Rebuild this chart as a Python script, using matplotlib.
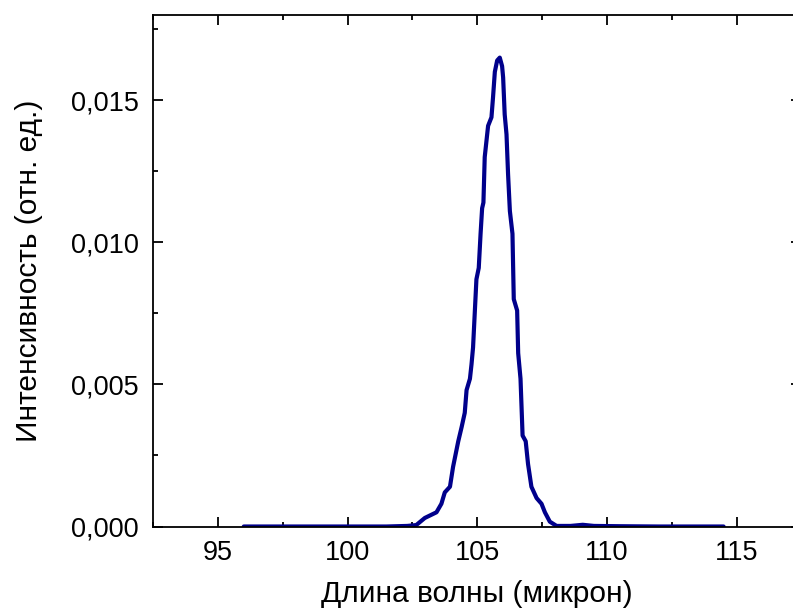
import matplotlib
matplotlib.use('Agg')
import matplotlib.pyplot as plt
from matplotlib.ticker import MultipleLocator

# wavelength (micron) and intensity (rel. units)
wavelength = [96.0, 98.0, 100.0, 101.5, 102.3, 102.65, 102.98, 103.43, 103.62, 103.75,
              103.95, 104.07, 104.27, 104.4, 104.52, 104.59, 104.72, 104.78, 104.84,
              104.97, 105.06, 105.13, 105.19, 105.24, 105.29, 105.42, 105.55, 105.61,
              105.68, 105.77, 105.87, 105.96, 106.0, 106.06, 106.13, 106.19, 106.26,
              106.36, 106.41, 106.54, 106.58, 106.67, 106.75, 106.87, 106.96, 107.09,
              107.29, 107.48, 107.61, 107.8, 108.06, 108.6, 109.07, 109.5, 110.5,
              112.0, 113.5, 114.5]
intensity = [0.0, 0.0, 0.0, 0.0, 0.00002, 0.00005, 0.0003, 0.0005, 0.0008, 0.0012,
             0.0014, 0.0021, 0.0030, 0.0035, 0.0040, 0.0048, 0.0052, 0.0057, 0.0063,
             0.0087, 0.0091, 0.0103, 0.0112, 0.0114, 0.0130, 0.0141, 0.0144, 0.0151,
             0.0160, 0.0164, 0.0165, 0.0162, 0.0158, 0.0145, 0.0138, 0.0124, 0.0111,
             0.0103, 0.0080, 0.0076, 0.0061, 0.0052, 0.0032, 0.0030, 0.0022, 0.0014,
             0.0010, 0.0008, 0.0005, 0.00017, 0.00002, 0.00002, 0.00006, 0.00002, 0.00001,
             0.0, 0.0, 0.0]

xticks = [95, 100, 105, 110, 115]
yticks = [0.0, 0.005, 0.010, 0.015]
ytick_labels = ['0,000', '0,005', '0,010', '0,015']

plt.rcParams['font.family'] = ['Liberation Sans', 'DejaVu Sans']

fig = plt.figure(figsize=(7.93, 6.12), dpi=100)
ax = fig.add_axes([153 / 793, 85.5 / 612, 648.4 / 793, 511.5 / 612])

ax.plot(wavelength, intensity, color='#00008b', linewidth=3,
        solid_capstyle='round', solid_joinstyle='round')

ax.set_xlim(92.5, 117.5)
ax.set_ylim(0, 0.018)
ax.set_xticks(xticks)
ax.set_xticklabels([str(t) for t in xticks])
ax.set_yticks(yticks)
ax.set_yticklabels(ytick_labels)
ax.xaxis.set_minor_locator(MultipleLocator(2.5))
ax.yaxis.set_minor_locator(MultipleLocator(0.0025))

ax.tick_params(which='both', direction='in', top=True, right=True, width=1.3,
               labelsize=19.5, pad=10)
ax.tick_params(which='major', length=7)
ax.tick_params(which='minor', length=3.5)
for s in ax.spines.values():
    s.set_linewidth(1.3)

ax.set_xlabel('Длина волны (микрон)', fontsize=21.5, labelpad=10)
ax.set_ylabel('Интенсивность (отн. ед.)', fontsize=21.5, labelpad=20)

fig.savefig('out.png', dpi=100)
